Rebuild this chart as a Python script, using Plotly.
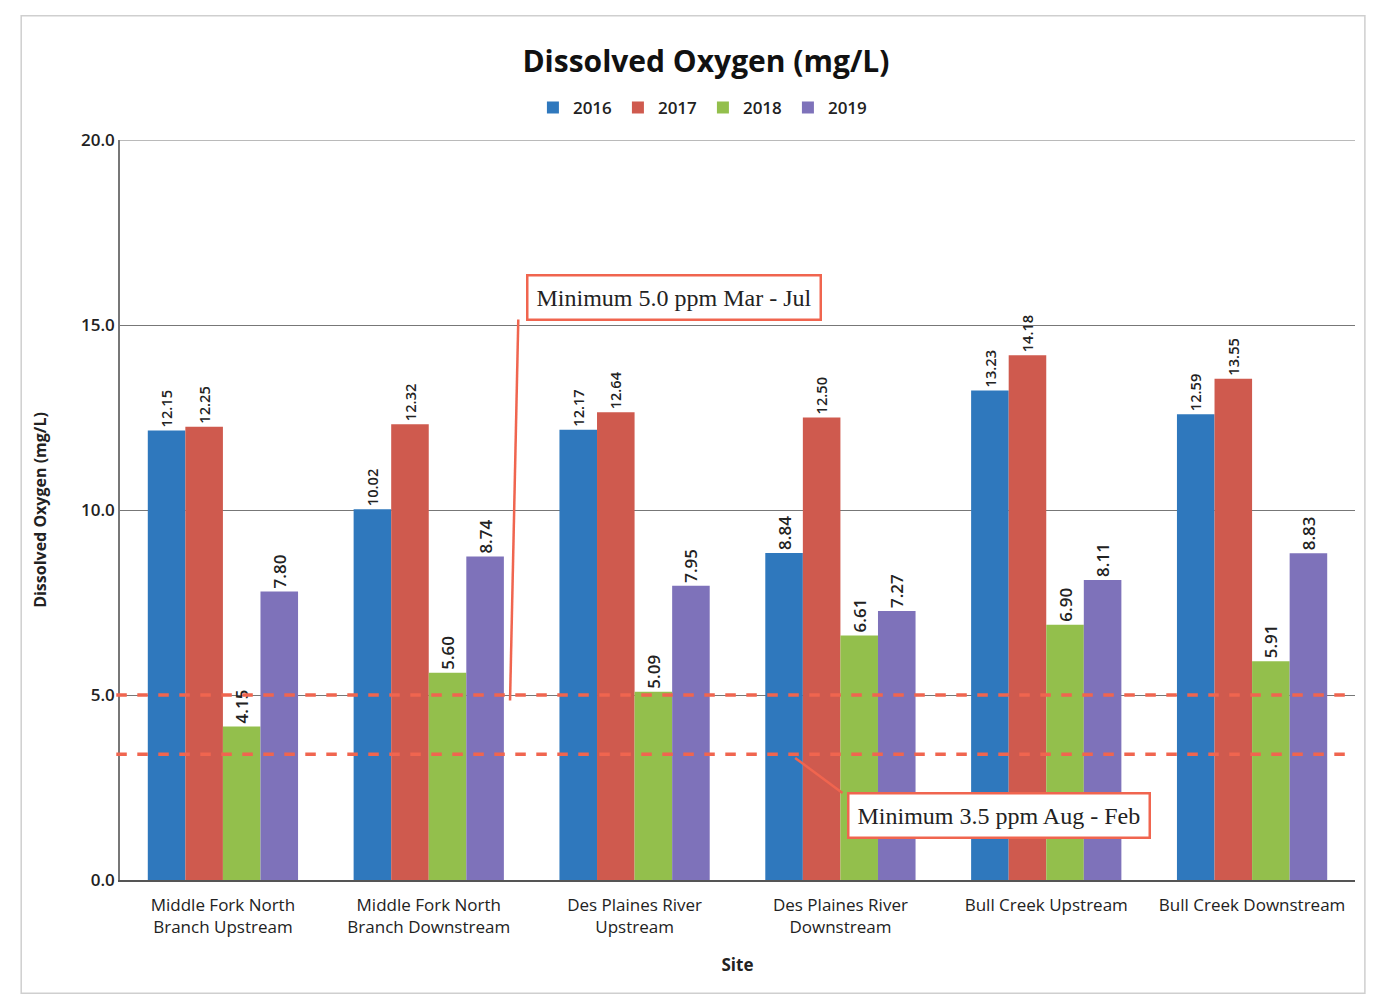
import plotly.graph_objects as go

# dados
sites = [
    "Middle Fork North<br>Branch Upstream",
    "Middle Fork North<br>Branch Downstream",
    "Des Plaines River<br>Upstream",
    "Des Plaines River<br>Downstream",
    "Bull Creek Upstream",
    "Bull Creek Downstream",
]
years = ["2016", "2017", "2018", "2019"]
do_2016 = [12.15, 10.02, 12.17, 8.84, 13.23, 12.59]
do_2017 = [12.25, 12.32, 12.64, 12.50, 14.18, 13.55]
do_2018 = [4.15, 5.60, 5.09, 6.61, 6.90, 5.91]
do_2019 = [7.80, 8.74, 7.95, 7.27, 8.11, 8.83]
min_spring = 5.0   # Mar - Jul
min_winter = 3.4   # Aug - Feb (drawn slightly below 3.5 in the source)

series = [do_2016, do_2017, do_2018, do_2019]
colors = ["#2f78bd", "#cf5a4e", "#93bf4c", "#7e72ba"]
line_red = "#f0654f"

fig = go.Figure()
for yr, vals, col in zip(years, series, colors):
    fig.add_trace(go.Bar(
        x=sites, y=vals, name=yr,
        marker=dict(color=col, line=dict(width=0)),
        text=[f"{v:.2f}" for v in vals],
        textposition="outside", textangle=-90,
        textfont=dict(family="Open Sans", size=17, color="#222", weight=600),
        cliponaxis=False,
    ))

# linha do topo (20.0)
fig.add_shape(type="line", xref="paper", yref="y", x0=0, x1=1, y0=20, y1=20,
              line=dict(color="#777", width=1))

# linhas de mínimo
for lvl in [min_spring, min_winter]:
    fig.add_shape(type="line", xref="paper", yref="y", x0=-0.003, x1=1.0,
                  y0=lvl, y1=lvl, line=dict(color=line_red, width=3.5, dash="dash"))

# caixas de texto
fig.add_annotation(x=2.19, y=15.75, text="Minimum 5.0 ppm Mar - Jul", showarrow=False,
                   font=dict(family="Liberation Serif", size=24, color="#222"),
                   bgcolor="white", bordercolor=line_red, borderwidth=2.5, borderpad=8)
fig.add_shape(type="line", x0=1.435, x1=1.395, y0=15.15, y1=4.85,
              line=dict(color=line_red, width=2.5))
fig.add_annotation(x=3.77, y=1.75, text="Minimum 3.5 ppm Aug - Feb", showarrow=False,
                   font=dict(family="Liberation Serif", size=24, color="#222"),
                   bgcolor="white", bordercolor=line_red, borderwidth=2.5, borderpad=8)
fig.add_shape(type="line", x0=3.01, x1=2.78, y0=2.35, y1=3.3,
              line=dict(color=line_red, width=2.5))

# moldura
fig.add_shape(type="rect", xref="paper", yref="paper", x0=-0.08, x1=1.008, y0=-0.153, y1=1.168,
              line=dict(color="#cfcfcf", width=1.5))

fig.update_layout(
    width=1382, height=1003,
    paper_bgcolor="white", plot_bgcolor="white",
    margin=dict(l=112, r=35, t=132, b=131),
    barmode="group", bargap=0.27, bargroupgap=0,
    font=dict(family="Open Sans", color="#222"),
    title=dict(text="<b>Dissolved Oxygen (mg/L)</b>", x=0.505, xanchor="center",
               y=0.947, yanchor="middle", font=dict(size=30, color="#111")),
    legend=dict(orientation="h", x=0.472, xanchor="center", y=1.019, yanchor="bottom",
                font=dict(size=17, weight=600), itemwidth=30, entrywidth=40,
                traceorder="normal"),
    xaxis=dict(showline=True, linecolor="#555", linewidth=1.5, ticks="",
               tickfont=dict(size=17, weight=500), ticklabelstandoff=9,
               title=dict(text="<b>Site</b>", font=dict(size=17), standoff=22)),
    yaxis=dict(range=[0, 20], tickvals=[0, 5, 10, 15, 20], tickformat=".1f", showgrid=True,
               gridcolor="#777", gridwidth=1, showline=True, linecolor="#777",
               linewidth=1.5, zeroline=False, ticks="", ticklen=0,
               tickfont=dict(size=17, weight=600),
               title=dict(text="<b>Dissolved Oxygen (mg/L)</b>", font=dict(size=16), standoff=30)),
)

fig.write_html("out.html")
